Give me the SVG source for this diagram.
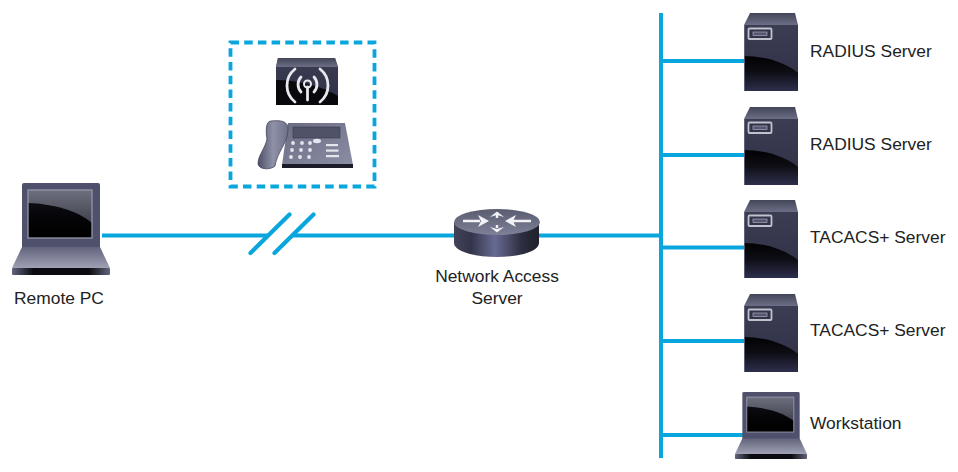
<svg xmlns="http://www.w3.org/2000/svg" width="958" height="472" viewBox="0 0 958 472">
<style>
text{font-family:"Liberation Sans",Arial,sans-serif;font-size:17.4px;fill:#222}
.c{fill:none;stroke:#09a6de;stroke-width:4}
.s{fill:none;stroke:#09a6de;stroke-width:4.200;stroke-linecap:round}
.d{fill:none;stroke:#09a6de;stroke-width:3.800;stroke-dasharray:8.500 5.200}
</style>
<defs>
<linearGradient id="body" x1="0" y1="0" x2="0" y2="1"><stop offset="0" stop-color="#3b3d52"/><stop offset="1" stop-color="#2f3046"/></linearGradient>
<linearGradient id="sweep" x1="0" y1="0" x2="0" y2="1"><stop offset="0" stop-color="#020204"/><stop offset=".45" stop-color="#0d0d14"/><stop offset="1" stop-color="#2e2f4c"/></linearGradient>
<linearGradient id="top" x1="0" y1="0" x2="0" y2="1"><stop offset="0" stop-color="#434558"/><stop offset="1" stop-color="#6c6e86"/></linearGradient>
<linearGradient id="screen" x1="0" y1="0" x2="0" y2="1"><stop offset="0" stop-color="#6e6f7e"/><stop offset="1" stop-color="#2c2c38"/></linearGradient>
<linearGradient id="glass" x1="0" y1="0" x2="0" y2="1"><stop offset="0" stop-color="#0c0c12"/><stop offset=".5" stop-color="#040406"/><stop offset="1" stop-color="#000"/></linearGradient>
<linearGradient id="key" x1="0" y1="0" x2="0" y2="1"><stop offset="0" stop-color="#62647c"/><stop offset="1" stop-color="#9fa0b4"/></linearGradient>
<linearGradient id="edge" x1="0" y1="0" x2="1" y2="0"><stop offset="0" stop-color="#62647c"/><stop offset="0.22" stop-color="#0a0a10"/><stop offset="0.78" stop-color="#0a0a10"/><stop offset="1" stop-color="#62647c"/></linearGradient>
<linearGradient id="cyl" x1="0" y1="0" x2="1" y2="0"><stop offset="0" stop-color="#43445a"/><stop offset="0.2" stop-color="#33344a"/><stop offset="0.48" stop-color="#686b92"/><stop offset="0.8" stop-color="#2c2d3e"/><stop offset="1" stop-color="#1f202b"/></linearGradient>
<linearGradient id="disc" x1="0" y1="0" x2="0" y2="1"><stop offset="0" stop-color="#5a5c70"/><stop offset="1" stop-color="#7e8098"/></linearGradient>
<linearGradient id="phone" x1="0" y1="0" x2="1" y2="1"><stop offset="0" stop-color="#6a6c84"/><stop offset="1" stop-color="#8b8da4"/></linearGradient>
<linearGradient id="hand" x1="0" y1="0" x2="1" y2="0"><stop offset="0" stop-color="#4e5068"/><stop offset=".5" stop-color="#8f91a8"/><stop offset="1" stop-color="#70728a"/></linearGradient>
<g id="server">
<path d="M6 0H51L54 12H0Z" fill="url(#top)"/>
<rect x="0" y="12" width="54" height="66" fill="url(#body)"/>
<path d="M0 43C20 43 40 49 54 60V78H0Z" fill="url(#sweep)"/>
<path d="M0 78V12H.8V78Z" fill="#6c6e86"/>
<rect x="4.500" y="15.500" width="23" height="10.500" rx="1" fill="#33344a" stroke="#c0c2ce" stroke-width="1.800"/>
<rect x="9" y="19" width="14" height="3.500" fill="#555770" stroke="#a8aaba" stroke-width=".7"/>
</g>
<g id="laptop">
<rect x="10" y="0" width="78" height="66" rx="2" fill="#4f516c"/>
<rect x="16" y="7" width="64" height="48" fill="url(#screen)"/>
<path d="M16 20C40 21 65 27 80 40V55H16Z" fill="url(#glass)"/>
<rect x="16" y="7" width="64" height="48" fill="none" stroke="#9496a8" stroke-width="1.300"/>
<path d="M10 64H88L98 85H0Z" fill="url(#key)"/>
<rect x="0" y="85" width="98" height="7" rx="1" fill="url(#edge)"/>
</g>
</defs>
<g id="connectors">
<path class="c" d="M102 235.500H268M293 235.500H456M538 235.500H661M661 13V458M661 61H745M661 155H745M661 247.500H745M661 341H745M661 435H745"/>
<path class="s" d="M250.500 253L289.500 214.500M274.500 253L313.500 214.500"/>
</g>
<g id="dial-group">
<rect class="d" x="230.500" y="42.500" width="144" height="144"/>
<g id="access-point">
<path d="M278 58H335L338 67V105H276V67Z" fill="url(#body)"/>
<path d="M278 58H335L338 67H276Z" fill="url(#top)"/>
<path d="M276 80C296 80 322 86 338 96V105H276Z" fill="#08080d"/>
<g fill="none" stroke="#e8e8ee" stroke-width="2.800" stroke-linecap="round">
<path d="M295 69A21 21 0 0 0 295 102M320 69A21 21 0 0 1 320 102"/>
<path d="M301 77A11 11 0 0 0 301 92M314 77A11 11 0 0 1 314 92"/>
<path d="M307.500 87V100"/>
</g>
<circle cx="307.500" cy="84" r="3.500" fill="none" stroke="#e8e8ee" stroke-width="2"/>
</g>
<g id="phone-set">
<path d="M288 123H345L353 165H282Z" fill="url(#phone)"/>
<path d="M282 164H353V168H282Z" fill="#1c1c28"/>
<rect x="293" y="127" width="47" height="11" fill="#505268" stroke="#3a3b4e" stroke-width=".6"/>
<path d="M271 121C265 121 266 134 267 139C265 149 258 155 258 164C259 170 271 170 275 166C277 152 288 143 288 129C288 121 281 120 271 121Z" fill="url(#hand)" stroke="#45465a" stroke-width=".8"/>
<g fill="#e4e5ec">
<circle cx="293" cy="143" r="1.900"/><circle cx="302" cy="143" r="1.900"/><circle cx="310" cy="143" r="1.900"/>
<circle cx="292" cy="150" r="1.900"/><circle cx="301" cy="150" r="1.900"/><circle cx="310" cy="150" r="1.900"/>
<circle cx="291" cy="157" r="1.900"/><circle cx="300" cy="157" r="1.900"/><circle cx="309" cy="157" r="1.900"/>
<ellipse cx="317" cy="141" rx="4" ry="2.200"/>
<rect x="326" y="144" width="12" height="2.200"/><rect x="326" y="149.500" width="12.500" height="2.200"/><rect x="326" y="155" width="13" height="2.200"/>
</g>
</g>
</g>
<g id="remote-pc"><use href="#laptop" x="12" y="183"/><text x="14" y="304">Remote PC</text></g>
<g id="nas">
<path d="M454 222V243C454 251 473 257 497 257S539 251 539 243V222Z" fill="url(#cyl)"/>
<ellipse cx="497" cy="222" rx="43" ry="13" fill="url(#disc)"/>
<g stroke="#f2f2f6" stroke-width="2.400" fill="none">
<path d="M463 221H480M510 221H531M497 218V214M497 225V228"/>
</g>
<g fill="#f2f2f6">
<path d="M478 215L489 221L478 227L481 221Z"/>
<path d="M516 215L505 221L516 227L513 221Z"/>
<path d="M490 217L497 211.500L504 217L497 215Z"/>
<path d="M490 227L497 232.500L504 227L497 229Z"/>
</g>
<text x="497" y="282" text-anchor="middle">Network Access</text><text x="497" y="304" text-anchor="middle">Server</text>
</g>
<g id="radius-1"><use href="#server" x="744" y="13"/><text x="810" y="57">RADIUS Server</text></g>
<g id="radius-2"><use href="#server" x="744" y="107"/><text x="810" y="150">RADIUS Server</text></g>
<g id="tacacs-1"><use href="#server" x="744" y="200"/><text x="810" y="243">TACACS+ Server</text></g>
<g id="tacacs-2"><use href="#server" x="744" y="294"/><text x="810" y="336">TACACS+ Server</text></g>
<g id="workstation"><use href="#laptop" transform="translate(735 392) scale(.735 .728)"/><text x="810" y="429">Workstation</text></g>
</svg>
